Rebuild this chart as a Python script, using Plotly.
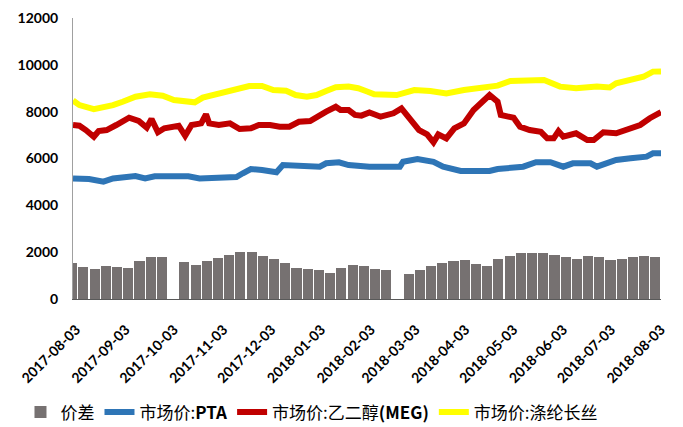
import pandas as pd
import plotly.graph_objects as go

# ---- data ----
week_start = pd.date_range("2017-07-31", periods=53, freq="7D")
spread = [1550, 1355, 1270, 1410, 1380, 1325, 1635, 1780, 1780, None,
          1595, 1465, 1635, 1735, 1880, 1995, 2000, 1850, 1720, 1525,
          1325, 1270, 1240, 1125, 1310, 1450, 1410, 1270, 1240, None,
          1080, 1240, 1410, 1550, 1635, 1660, 1495, 1410, 1695, 1835,
          1950, 1950, 1950, 1880, 1780, 1720, 1850, 1810, 1660, 1695,
          1780, 1835, 1810]

pta_dates = ["2017-08-01", "2017-08-11", "2017-08-20", "2017-08-26", "2017-09-09",
             "2017-09-15", "2017-09-21", "2017-10-12", "2017-10-19", "2017-10-30",
             "2017-11-11", "2017-11-15", "2017-11-20", "2017-11-27", "2017-12-06",
             "2017-12-10", "2017-12-22", "2018-01-02", "2018-01-06", "2018-01-14",
             "2018-01-20", "2018-02-02", "2018-02-21", "2018-02-23", "2018-03-04",
             "2018-03-14", "2018-03-20", "2018-03-31", "2018-04-18", "2018-04-23",
             "2018-05-09", "2018-05-17", "2018-05-26", "2018-06-03", "2018-06-09",
             "2018-06-20", "2018-06-24", "2018-06-30", "2018-07-06", "2018-07-15",
             "2018-07-25", "2018-07-29", "2018-08-03"]
pta = [5150, 5125, 5010, 5150, 5250, 5150, 5240, 5240, 5150, 5150,
       5210, 5370, 5550, 5510, 5410, 5720, 5650, 5650, 5795, 5840,
       5720, 5650, 5650, 5860, 5980, 5860, 5650, 5465, 5465, 5550,
       5650, 5840, 5840, 5650, 5795, 5795, 5650, 5795, 5935, 6010,
       6080, 6220, 6220]

meg_dates = ["2017-08-01", "2017-08-05", "2017-08-09", "2017-08-14", "2017-08-17",
             "2017-08-22", "2017-08-28", "2017-09-05", "2017-09-11", "2017-09-16",
             "2017-09-19", "2017-09-23", "2017-09-27", "2017-10-06", "2017-10-10",
             "2017-10-14", "2017-10-20", "2017-10-23", "2017-10-25", "2017-10-31",
             "2017-11-07", "2017-11-13", "2017-11-20", "2017-11-25", "2017-12-02",
             "2017-12-08", "2017-12-14", "2017-12-20", "2017-12-27", "2017-12-31",
             "2018-01-06", "2018-01-12", "2018-01-15", "2018-01-20", "2018-01-24",
             "2018-01-28", "2018-02-02", "2018-02-09", "2018-02-17", "2018-02-22",
             "2018-02-27", "2018-03-05", "2018-03-10", "2018-03-14", "2018-03-17",
             "2018-03-22", "2018-03-27", "2018-04-02", "2018-04-08", "2018-04-14",
             "2018-04-18", "2018-04-23", "2018-04-25", "2018-05-03", "2018-05-07",
             "2018-05-13", "2018-05-20", "2018-05-24", "2018-05-28", "2018-05-31",
             "2018-06-03", "2018-06-11", "2018-06-18", "2018-06-22", "2018-06-28",
             "2018-07-06", "2018-07-15", "2018-07-21", "2018-07-27", "2018-08-01",
             "2018-08-03"]
meg = [7430, 7400, 7215, 6930, 7170, 7215, 7430, 7740, 7600, 7320,
       7690, 7120, 7290, 7400, 6970, 7430, 7500, 7885, 7500, 7430,
       7500, 7260, 7290, 7430, 7430, 7360, 7360, 7570, 7600, 7785,
       8000, 8210, 8070, 8070, 7860, 7830, 7970, 7785, 7930, 8140,
       7690, 7215, 7030, 6690, 7030, 6860, 7290, 7500, 8070, 8500,
       8710, 8425, 7860, 7740, 7360, 7215, 7140, 6860, 6860, 7170,
       6930, 7075, 6790, 6790, 7120, 7075, 7290, 7430, 7720, 7930,
       7980]

poy_dates = ["2017-08-01", "2017-08-05", "2017-08-14", "2017-08-20", "2017-08-26",
             "2017-09-01", "2017-09-09", "2017-09-18", "2017-09-26", "2017-10-03",
             "2017-10-10", "2017-10-16", "2017-10-21", "2017-10-29", "2017-11-05",
             "2017-11-11", "2017-11-19", "2017-11-27", "2017-12-04", "2017-12-12",
             "2017-12-18", "2017-12-25", "2017-12-31", "2018-01-06", "2018-01-12",
             "2018-01-20", "2018-01-26", "2018-02-01", "2018-02-05", "2018-02-19",
             "2018-03-02", "2018-03-12", "2018-03-22", "2018-04-02", "2018-04-12",
             "2018-04-23", "2018-05-01", "2018-05-13", "2018-05-22", "2018-06-01",
             "2018-06-11", "2018-06-24", "2018-07-02", "2018-07-06", "2018-07-15",
             "2018-07-23", "2018-07-29", "2018-08-03"]
poy = [8480, 8280, 8110, 8170, 8280, 8425, 8640, 8740, 8680, 8500,
       8470, 8400, 8600, 8740, 8880, 9000, 9095, 9095, 8920, 8895,
       8710, 8640, 8710, 8880, 9040, 9070, 9000, 8850, 8740, 8710,
       8925, 8880, 8780, 8925, 9000, 9110, 9310, 9350, 9350, 9070,
       9000, 9070, 9030, 9210, 9350, 9490, 9710, 9720]

tick_dates = ["2017-08-03", "2017-09-03", "2017-10-03", "2017-11-03", "2017-12-03",
              "2018-01-03", "2018-02-03", "2018-03-03", "2018-04-03", "2018-05-03",
              "2018-06-03", "2018-07-03", "2018-08-03"]
y_ticks = [0, 2000, 4000, 6000, 8000, 10000, 12000]
y_tick_text = ["0", "2000", "4000", "6000", "8000", "10000", "12000"]

# ---- figure ----
DAY_MS = 86400000
fig = go.Figure()
fig.add_trace(go.Bar(
    x=[d + pd.Timedelta(hours=12) for d in week_start], y=spread, name="价差",
    width=6.3 * DAY_MS, marker=dict(color="#767171", line=dict(width=0)),
))
fig.add_trace(go.Scatter(x=pta_dates, y=pta, name="市场价:<b>PTA</b>", mode="lines",
                         line=dict(color="#2E75B6", width=6)))
fig.add_trace(go.Scatter(x=meg_dates, y=meg, name="市场价:乙二醇<b>(MEG)</b>", mode="lines",
                         line=dict(color="#C00000", width=6)))
fig.add_trace(go.Scatter(x=poy_dates, y=poy, name="市场价:涤纶长丝", mode="lines",
                         line=dict(color="#FFFF00", width=6)))

tick_font = dict(family="Lato", size=14, color="#000000", weight="bold")
fig.update_layout(
    width=683, height=427,
    margin=dict(l=73, r=22, t=18, b=128, autoexpand=False),
    paper_bgcolor="white", plot_bgcolor="white",
    showlegend=True,
    legend=dict(orientation="h", xref="container", yref="container",
                x=0.03, y=0.034, xanchor="left", yanchor="middle",
                font=dict(family="Noto Sans CJK SC", size=17, color="#000000"),
                itemwidth=30, tracegroupgap=0, traceorder="normal"),
    bargap=0,
)
fig.update_xaxes(
    type="date", range=["2017-08-01", "2018-08-03"],
    tickmode="array", tickvals=tick_dates, ticktext=tick_dates,
    tickangle=-45, tickfont=tick_font, ticks="", ticklabelstandoff=16,
    showgrid=False, showline=True, linecolor="#595959", linewidth=1, zeroline=False,
    automargin=False,
)
fig.update_yaxes(
    range=[0, 12000], tickmode="array", tickvals=y_ticks, ticktext=y_tick_text,
    tickfont=tick_font, ticks="", ticklabelstandoff=11,
    showgrid=False, showline=True, linecolor="#A0A0A0", linewidth=1, zeroline=False,
    automargin=False,
)
fig.write_html("out.html", config={"displayModeBar": False},
               post_script="document.body.style.margin='0';")
